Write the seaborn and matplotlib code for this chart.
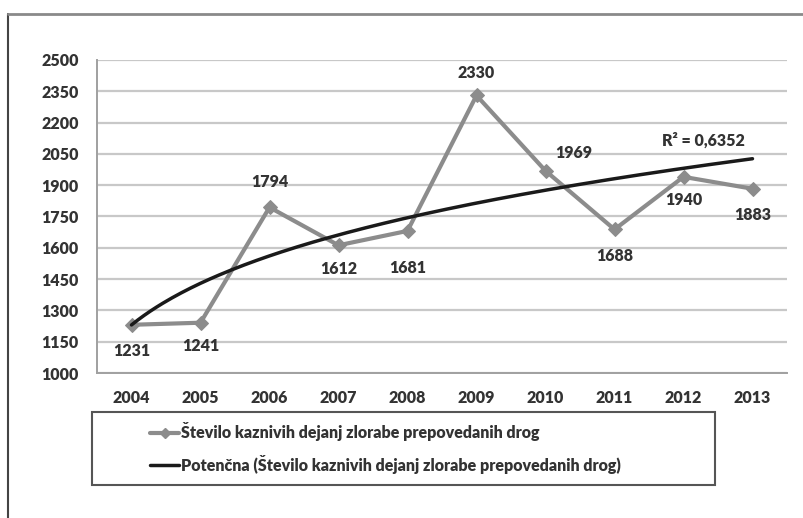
import numpy as np
import pandas as pd
import matplotlib
matplotlib.use("Agg")
import matplotlib.pyplot as plt
from matplotlib.lines import Line2D
from matplotlib.patches import Rectangle
import seaborn as sns

years = ["2004", "2005", "2006", "2007", "2008", "2009", "2010", "2011", "2012", "2013"]
cases = [1231, 1241, 1794, 1612, 1681, 2330, 1969, 1688, 1940, 1883]
label_offsets = [(0, -19), (0, -17), (0, 18), (0, -17), (0, -27), (0, 16), (20, 13), (0, -19), (0, -17), (0, -19)]
yticks = [1000, 1150, 1300, 1450, 1600, 1750, 1900, 2050, 2200, 2350, 2500]
series_name = "Število kaznivih dejanj zlorabe prepovedanih drog"
trend_name = "Potenčna (Število kaznivih dejanj zlorabe prepovedanih drog)"
r2_text = "R² = 0,6352"

sns.set_style("white")
plt.rcParams["font.family"] = ["Lato", "DejaVu Sans"]
plt.rcParams["font.weight"] = "bold"

df = pd.DataFrame({"x": np.arange(len(years)), "y": cases})

# power trendline (Excel style: y = a * x^b, x = 1..n), drawn as a smooth curve
xn = np.arange(1, len(cases) + 1)
b, lna = np.polyfit(np.log(xn), np.log(cases), 1)
xs = np.linspace(1, len(cases), 200)
trend = np.exp(lna) * xs ** b

fig = plt.figure(figsize=(8.04, 5.18), dpi=100)
ax = fig.add_axes([97 / 804, 1 - 373 / 518, 690 / 804, 313 / 518])

sns.lineplot(data=df, x="x", y="y", ax=ax, color="#8c8c8c", lw=3,
             marker="D", markersize=7, markeredgecolor="#8c8c8c", zorder=3)
ax.plot(xs - 1, trend, color="#1a1a1a", lw=2.5, zorder=4)

fs = 11.5
for i, (v, off) in enumerate(zip(cases, label_offsets)):
    ax.annotate(str(v), (i, v), xytext=off, textcoords="offset points",
                ha="center", va="center", fontsize=fs, fontweight="heavy", color="#333333")
r2_y = np.exp(lna) * 9 ** b
ax.annotate(r2_text, (8, r2_y), xytext=(14, 20), textcoords="offset points",
            ha="center", va="center", fontsize=fs, fontweight="heavy", color="#333333")

ax.set_xlim(-0.5, len(years) - 0.5)
ax.set_ylim(1000, 2500)
ax.set_yticks(yticks)
ax.set_xticks(df["x"])
ax.set_xticklabels(years)
ax.set_xticks(np.arange(-0.5, len(years)), minor=True)
ax.set_xlabel("")
ax.set_ylabel("")
ax.grid(axis="y", color="#c8c8c8", lw=1.6)
ax.set_axisbelow(True)
for s in ["top", "right"]:
    ax.spines[s].set_visible(False)
for s in ["left", "bottom"]:
    ax.spines[s].set_color("#a0a0a0")
    ax.spines[s].set_linewidth(1.4)
ax.tick_params(axis="y", length=6, color="#a0a0a0", width=1.4, labelsize=fs, labelcolor="#333333", pad=7)
ax.tick_params(axis="x", which="major", length=0, labelsize=fs, labelcolor="#333333", pad=12)
ax.tick_params(axis="x", which="minor", length=5, color="#a0a0a0", width=1.4)
for lbl in ax.get_xticklabels() + ax.get_yticklabels():
    lbl.set_fontweight("heavy")

# outer chart frame
fig.add_artist(Line2D([8 / 804, 8 / 804], [0, 1 - 14 / 518], color="#444444", lw=1.5))
fig.add_artist(Line2D([8 / 804, 1], [1 - 14 / 518, 1 - 14 / 518], color="#8a8a8a", lw=2))

# legend frame and entries
fig.add_artist(Rectangle((92 / 804, 1 - 485 / 518), 623 / 804, 73 / 518,
                         transform=fig.transFigure, fill=False, ec="#555555", lw=1.5))
handles = [Line2D([], [], color="#8c8c8c", lw=3, marker="D", markersize=5),
           Line2D([], [], color="#1a1a1a", lw=2.5)]
fig.legend(handles, [series_name, trend_name], loc="upper left",
           bbox_to_anchor=(136 / 804, 1 - 408 / 518), frameon=False,
           handlelength=1.8, handletextpad=0.1, labelspacing=0.85,
           prop={"family": "Lato", "weight": "heavy", "size": 11.5}, labelcolor="#333333")

fig.savefig("out.png", dpi=100)
